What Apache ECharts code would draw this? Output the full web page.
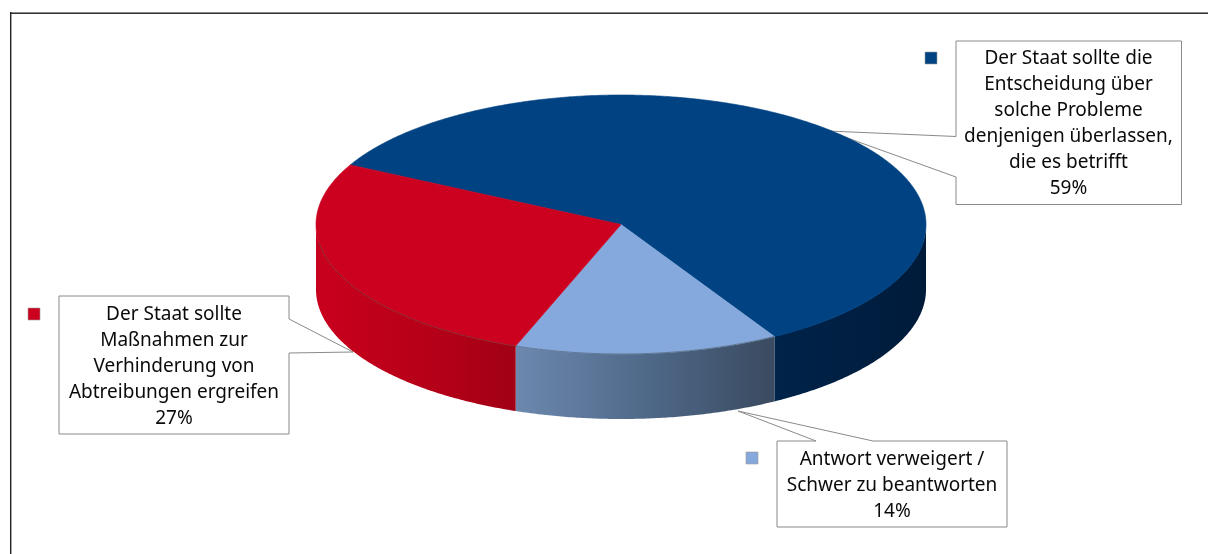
<!DOCTYPE html>
<html><head><meta charset="utf-8">
<style>html,body{margin:0;padding:0;background:#fff}#c{width:1208px;height:554px}</style>
<script src="https://cdn.jsdelivr.net/npm/echarts@6/dist/echarts.min.js"></script>
</head><body><div id="c"></div>
<script>
// Data: clockwise on the pie, beginning at the upper-left edge of the blue slice
const categories = [
  'Der Staat sollte die\nEntscheidung über\nsolche Probleme\ndenjenigen überlassen,\ndie es betrifft',
  'Antwort verweigert /\nSchwer zu beantworten',
  'Der Staat sollte\nMaßnahmen zur\nVerhinderung von\nAbtreibungen ergreifen'
];
const values = [59, 14, 27];
const topColors = ['#004282', '#85A9DC', '#CC001F'];
const rimColors = ['#004282', '#5F7590', '#8C2A30'];
const sideStops = [
  [[0, '#00234A'], [1, '#001B3A']],
  [[0, '#6C88AE'], [0.5, '#4F6989'], [1, '#3A4A60']],
  [[0, '#C8001E'], [0.35, '#BE001A'], [0.75, '#AE0017'], [1, '#A00015']]
];

// Layout
const CX = 621, CY = 224.5, RX = 305, RY = 129.5, DEPTH = 65, START = -152.6;
const FONT = '"Noto Sans"';
const boxes = [
  {poly: [[956,41],[1181.5,41],[1181.5,204.5],[956,204.5],[956,177],[828,131],[956,136.5]], tc: [1068.5,124], mk: [925,52]},
  {poly: [[777,441],[816,441],[738,411],[873,441],[1007,441],[1007,527],[777,527]], tc: [892,486], mk: [746,452]},
  {poly: [[59,296],[289,296],[289,319],[353,352],[289,353],[289,434],[59,434]], tc: [174,367], mk: [28,308]}
];

const total = values.reduce((a, b) => a + b, 0);
const pt = (deg, dy) => {
  const r = deg * Math.PI / 180;
  return [CX + RX * Math.cos(r), CY + RY * Math.sin(r) + (dy || 0)];
};
function arc(a, b) {
  const n = Math.max(2, Math.ceil(Math.abs(b - a) * 2)), out = [];
  for (let i = 0; i <= n; i++) out.push(a + (b - a) * i / n);
  return out;
}
function span(i) {
  let s = START;
  for (let k = 0; k < i; k++) s += values[k] / total * 360;
  return [s, s + values[i] / total * 360];
}
function renderSlice(params, api) {
  const i = api.value(1);
  const [a, b] = span(i);
  const children = [];
  // visible outer wall: only the part of the arc on the front half (0..180 deg)
  const s0 = Math.max(a, 0), s1 = Math.min(b, 180);
  if (s1 > s0) {
    const angs = arc(s0, s1);
    const wall = angs.map(t => pt(t)).concat(angs.slice().reverse().map(t => pt(t, DEPTH)));
    const xs = wall.map(p => p[0]);
    const x0 = Math.min.apply(null, xs), x1 = Math.max.apply(null, xs);
    const fill = new echarts.graphic.LinearGradient(x0, 0, x1, 0,
      sideStops[i].map(s => ({offset: s[0], color: s[1]})), true);
    children.push({type: 'polygon', shape: {points: wall}, style: {fill: fill, stroke: null}});
  }
  return {type: 'group', children};
}
function renderTop(params, api) {
  const i = api.value(1);
  const [a, b] = span(i);
  const pts = [[CX, CY]].concat(arc(a, b).map(t => pt(t)));
  const children = [{type: 'polygon', shape: {points: pts},
    style: {fill: topColors[i], stroke: topColors[i], lineWidth: 0.6}}];
  const s0 = Math.max(a, 8), s1 = Math.min(b, 172);
  if (s1 > s0) {
    children.push({type: 'polyline', shape: {points: arc(s0, s1).map(t => pt(t))},
      style: {fill: null, stroke: rimColors[i], lineWidth: 1}});
  }
  return {type: 'group', children};
}

const graphics = [
  {type: 'rect', shape: {x: 10, y: 12, width: 1198, height: 1}, style: {fill: '#8a8a8a'}, z: 0, silent: true},
  {type: 'rect', shape: {x: 10, y: 13, width: 1198, height: 1}, style: {fill: '#333'}, z: 0, silent: true},
  {type: 'rect', shape: {x: 10, y: 12, width: 1.4, height: 542}, style: {fill: '#222'}, z: 0, silent: true}
];
boxes.forEach((b, i) => {
  graphics.push({type: 'polygon', shape: {points: b.poly}, style: {fill: '#fff', stroke: '#8a8a8a', lineWidth: 1}, z: 1, silent: true});
  graphics.push({type: 'rect', shape: {x: b.mk[0], y: b.mk[1], width: 12, height: 12},
    style: {fill: topColors[i], stroke: '#9a9a9a', lineWidth: 0.6}, z: 1, silent: true});
  graphics.push({type: 'text', x: b.tc[0], y: b.tc[1], z: 1, silent: true,
    style: {text: categories[i] + '\n' + values[i] + '%', font: '19px ' + FONT, lineHeight: 26,
      fill: '#0a0a0a', align: 'center', verticalAlign: 'middle'}});
});

const seriesData = values.map((v, i) => [v, i]);
const chart = echarts.init(document.getElementById('c'), null, {renderer: 'canvas'});
chart.setOption({
  animation: false,
  backgroundColor: '#fff',
  tooltip: {show: false},
  graphic: graphics,
  series: [
    {type: 'custom', coordinateSystem: 'none', z: 3, renderItem: renderSlice, data: seriesData, silent: true},
    {type: 'custom', coordinateSystem: 'none', z: 4, renderItem: renderTop, data: seriesData, silent: true}
  ]
});
</script></body></html>
